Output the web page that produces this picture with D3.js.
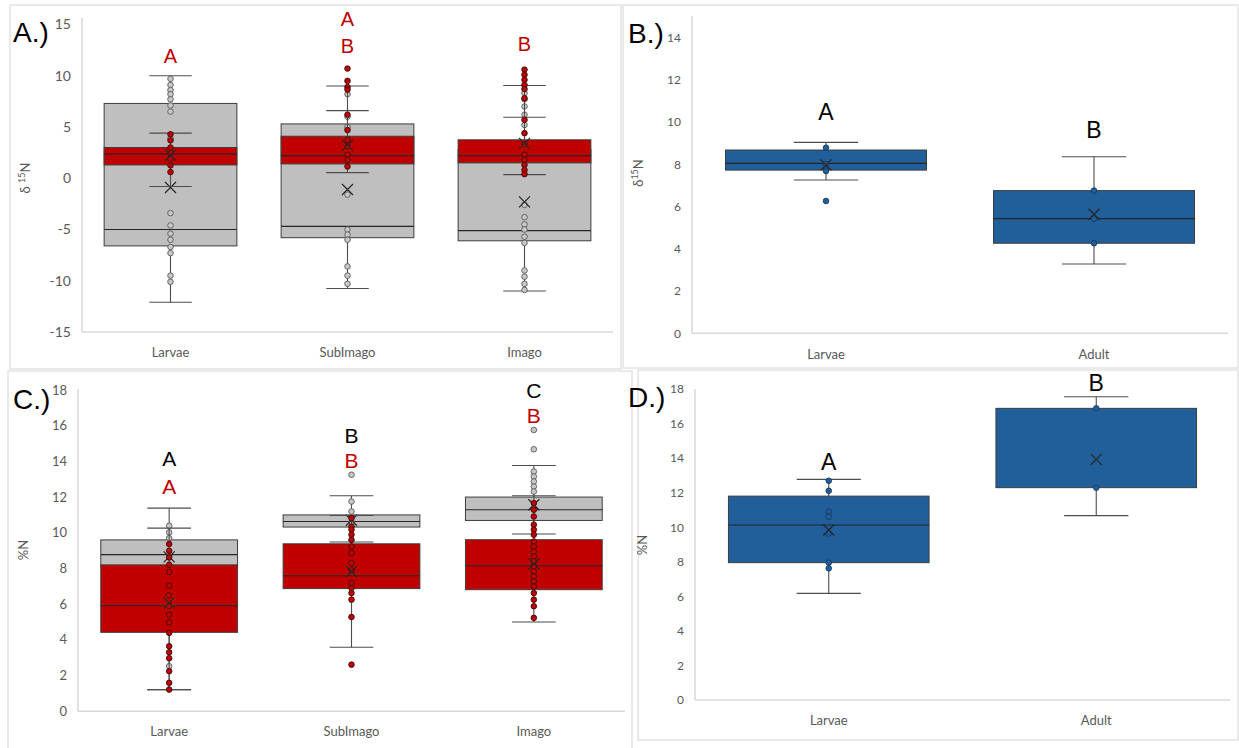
<!DOCTYPE html>
<html>
<head>
<meta charset="utf-8">
<script src="https://cdn.jsdelivr.net/npm/d3@7"></script>
<style>
  body { margin: 0; background: #fff; }
  text { font-family: Lato, "Open Sans", sans-serif; }
</style>
</head>
<body>
<svg id="drawing_region"></svg>
<script>
// each stats row: [lower whisker, Q1, median, Q3, upper whisker, mean]
const catsStage = ["Larvae", "SubImago", "Imago"];
const catsLife = ["Larvae", "Adult"];

const ticksA = [-15, -10, -5, 0, 5, 10, 15];
const ticksB = [0, 2, 4, 6, 8, 10, 12, 14];
const ticksCD = [0, 2, 4, 6, 8, 10, 12, 14, 16, 18];

// A.) d15N, all stages (gray) and subset (red)
const aGrayStats = [[-12.1, -6.6, -5.0, 7.3, 10.0, -0.9],
                    [-10.75, -5.8, -4.7, 5.3, 6.6, -1.1],
                    [-11.0, -6.1, -5.1, 2.8, 5.95, -2.3]];
const aGrayPts = [[9.7, 9.1, 8.6, 8.2, 7.7, 7.1, 6.5, 3.9, 2.0, -3.4, -4.6, -5.4, -6.0, -6.7, -7.3, -9.5, -10.1],
                  [8.2, 6.0, 5.0, 3.6, 2.6, -1.6, -5.0, -5.5, -6.0, -8.6, -9.5, -10.3],
                  [8.3, 7.7, 7.0, 6.2, 5.2, -2.6, -3.8, -4.5, -5.0, -5.7, -6.3, -9.0, -9.6, -10.3, -10.9]];
const aRedStats = [[-0.8, 1.3, 2.35, 3.0, 4.4, 2.25],
                   [0.55, 1.4, 2.2, 4.1, 9.0, 3.2],
                   [0.35, 1.5, 2.2, 3.75, 9.05, 3.4]];
const aRedPts = [[4.3, 3.7, 3.0, 2.45, 1.9, 1.25, 0.6],
                 [10.7, 9.5, 8.9, 8.65, 6.2, 4.7, 3.75, 3.1, 2.3, 1.8, 1.15],
                 [10.6, 10.1, 9.6, 9.1, 8.7, 7.8, 5.7, 4.4, 3.3, 2.3, 1.8, 1.3, 0.8, 0.4]];

// B.) d15N, larvae vs adult
const bStats = [[7.25, 7.72, 8.04, 8.67, 9.03, 7.97],
                [3.28, 4.26, 5.42, 6.75, 8.35, 5.63]];
const bPts = [[8.78, 8.0, 7.75, 7.68, 6.26],
              [6.75, 5.42, 4.26]];

// C.) %N, all stages (gray) and subset (red)
const cGrayStats = [[1.21, 8.15, 8.77, 9.6, 11.38, 8.65],
                    [9.48, 10.32, 10.63, 11.0, 12.07, 10.7],
                    [9.93, 10.69, 11.29, 12.0, 13.77, 11.57]];
const cGrayPts = [[10.39, 10.02, 9.7, 8.68, 2.52],
                  [13.25, 11.75, 11.19, 10.6],
                  [15.76, 14.68, 13.43, 13.15, 12.87, 12.59, 12.31]];
const cRedStats = [[1.21, 4.42, 5.92, 8.2, 10.26, 6.07],
                   [3.58, 6.87, 7.59, 9.38, 10.97, 7.83],
                   [5.0, 6.81, 8.15, 9.61, 12.07, 8.26]];
const cRedPts = [[9.37, 8.99, 8.62, 8.21, 7.8, 7.03, 6.49, 5.9, 5.41, 4.98, 4.39, 3.64, 3.30, 2.97, 2.24, 1.59, 1.21],
                 [10.82, 10.35, 10.17, 9.89, 9.6, 9.23, 8.86, 8.3, 7.9, 7.18, 6.9, 6.62, 6.25, 5.28, 2.61],
                 [11.66, 11.29, 10.91, 10.45, 10.17, 9.89, 9.51, 9.23, 8.95, 8.67, 8.39, 8.11, 7.83, 7.55, 7.27, 6.99, 6.62, 6.25, 5.88, 5.23]];

// D.) %N, larvae vs adult (no median line shown for adults)
const dStats = [[6.17, 7.95, 10.13, 11.8, 12.77, 9.84],
                [10.67, 12.29, null, 16.88, 17.55, 13.93]];
const dPts = [[12.69, 12.11, 10.9, 10.61, 9.64, 7.95, 7.62],
              [16.88, 12.29]];

// significance letters
const aLetters = [["Larvae", "A"], ["SubImago", "A"], ["SubImago", "B"], ["Imago", "B"]];
const bLetters = [["Larvae", "A"], ["Adult", "B"]];
const cLetters = [["Larvae", "A"], ["Larvae", "A"], ["SubImago", "B"], ["SubImago", "B"], ["Imago", "C"], ["Imago", "B"]];
const dLetters = [["Larvae", "A"], ["Adult", "B"]];

const RED = "#C00000", GRAY = "#BFBFBF", BLUE = "#215F9A", INK = "#595959";

const grayStyle = { fill: GRAY, ptFill: "#c8c8c8", ptStroke: "#595959" };
const redStyle = { fill: RED, ptFill: RED, ptStroke: "#3a1010" };
const blueStyle = { fill: BLUE, ptFill: BLUE, ptStroke: "#17395c" };

const panels = [
    { label: "A.)", labelAt: [13, 42], frame: [10, 5, 611, 364],
      xr: [82, 613], yr: [332, 24.5], domain: [-15, 15], axisTop: 18, ticks: ticksA, tickFont: 14,
      cats: catsStage, title: ["δ ", "15", "N"], titleAt: [30, 178],
      series: [{ stats: aGrayStats, pts: aGrayPts, st: grayStyle }, { stats: aRedStats, pts: aRedPts, st: redStyle }],
      letters: aLetters, letterY: [11.9, 15.6, 12.9, 13.1], letterCol: [RED, RED, RED, RED], letterSize: 20 },
    { label: "B.)", labelAt: [628, 43], frame: [623, 5, 615, 363],
      xr: [692, 1228], yr: [333.3, 16.2], domain: [0, 15], axisTop: 16, ticks: ticksB, tickFont: 12,
      cats: catsLife, title: ["δ", "15", "N"], titleAt: [643, 173],
      series: [{ stats: bStats, pts: bPts, st: blueStyle }],
      letters: bLetters, letterY: [10.48, 9.62], letterCol: ["#000", "#000"], letterSize: 23 },
    { label: "C.)", labelAt: [13, 409], frame: [8, 371, 624, 390],
      xr: [78, 625], yr: [711.2, 390], domain: [0, 18], axisTop: 389, ticks: ticksCD, tickFont: 13,
      cats: catsStage, title: ["%N"], titleAt: [28, 550],
      series: [{ stats: cGrayStats, pts: cGrayPts, st: grayStyle }, { stats: cRedStats, pts: cRedPts, st: redStyle }],
      letters: cLetters, letterY: [14.18, 12.59, 15.48, 14.05, 17.96, 16.6],
      letterCol: ["#000", RED, "#000", RED, "#000", RED], letterSize: 21 },
    { label: "D.)", labelAt: [628, 407], frame: [638, 370, 600, 370],
      xr: [695, 1230], yr: [700, 389], domain: [0, 18], axisTop: 389, ticks: ticksCD, tickFont: 12,
      cats: catsLife, title: ["%N"], titleAt: [647, 545],
      series: [{ stats: dStats, pts: dPts, st: blueStyle }],
      letters: dLetters, letterY: [13.79, 18.39], letterCol: ["#000", "#000"], letterSize: 23 }
];

const svg = d3.select("#drawing_region")
    .attr("width", 1239)
    .attr("height", 748);

svg.append("rect").attr("width", 1239).attr("height", 748).attr("fill", "#fff");

panels.forEach(p => drawPanel(p));

function drawPanel(p) {
    const g = svg.append("g");
    const x = d3.scaleBand().domain(p.cats).range(p.xr);
    const y = d3.scaleLinear().domain(p.domain).range(p.yr);
    const bw = x.bandwidth();
    const boxW = bw * 0.75;
    const capW = boxW * 0.32;
    const cx = c => x(c) + bw / 2;
    const base = y(p.domain[0]);

    // panel frame
    g.append("rect")
        .attr("x", p.frame[0]).attr("y", p.frame[1])
        .attr("width", p.frame[2]).attr("height", p.frame[3])
        .attr("fill", "none").attr("stroke", "#e3e3e3").attr("stroke-width", 1.5);

    // axis lines
    g.append("line")
        .attr("x1", p.xr[0]).attr("x2", p.xr[0])
        .attr("y1", p.axisTop).attr("y2", base)
        .attr("stroke", "#d9d9d9").attr("stroke-width", 1.5);
    g.append("line")
        .attr("x1", p.xr[0]).attr("x2", p.xr[1])
        .attr("y1", base).attr("y2", base)
        .attr("stroke", "#d9d9d9").attr("stroke-width", 1.5);

    // plain hyphen for negatives, like the source
    const yAxis = g.append("g")
        .attr("transform", `translate(${p.xr[0]},0)`)
        .call(d3.axisLeft(y).tickValues(p.ticks).tickSize(0).tickPadding(11).tickFormat(d => String(d)));
    yAxis.select(".domain").remove();
    yAxis.selectAll("text").attr("fill", INK).style("font-size", p.tickFont + "px")
        .style("font-family", "Lato, sans-serif");

    const xAxis = g.append("g")
        .attr("transform", `translate(0,${base})`)
        .call(d3.axisBottom(x).tickSize(0).tickPadding(16));
    xAxis.select(".domain").remove();
    xAxis.selectAll("text").attr("fill", INK).style("font-size", "13px")
        .style("font-family", "Lato, sans-serif");

    // y title
    const t = g.append("text")
        .attr("transform", `translate(${p.titleAt[0]},${p.titleAt[1]}) rotate(-90)`)
        .attr("text-anchor", "middle")
        .attr("fill", INK)
        .style("font-size", "13px");
    if (p.title.length === 3) {
        t.append("tspan").text(p.title[0]);
        t.append("tspan").text(p.title[1]).attr("font-size", "9px").attr("dy", "-5");
        t.append("tspan").text(p.title[2]).attr("dy", "5");
    } else {
        t.text(p.title[0]);
    }

    // boxes, one series after the other
    p.series.forEach(s => {
        const rows = p.cats.map((c, i) => ({ c: c, v: s.stats[i], pts: s.pts[i] }));
        const sg = g.append("g");

        sg.selectAll(".wh")
            .data(rows.flatMap(r => [[r.c, r.v[3], r.v[4]], [r.c, r.v[1], r.v[0]]]))
            .join("line")
            .attr("x1", d => cx(d[0])).attr("x2", d => cx(d[0]))
            .attr("y1", d => y(d[1])).attr("y2", d => y(d[2]))
            .attr("stroke", "#4d4d4d").attr("stroke-width", 1.1);

        sg.selectAll(".cap")
            .data(rows.flatMap(r => [[r.c, r.v[0]], [r.c, r.v[4]]]))
            .join("line")
            .attr("x1", d => cx(d[0]) - capW / 2).attr("x2", d => cx(d[0]) + capW / 2)
            .attr("y1", d => y(d[1])).attr("y2", d => y(d[1]))
            .attr("stroke", "#4d4d4d").attr("stroke-width", 1.1);

        sg.selectAll(".box")
            .data(rows)
            .join("rect")
            .attr("x", d => cx(d.c) - boxW / 2)
            .attr("y", d => y(d.v[3]))
            .attr("width", boxW)
            .attr("height", d => y(d.v[1]) - y(d.v[3]))
            .attr("fill", s.st.fill)
            .attr("stroke", "#3d3d3d").attr("stroke-width", 1);

        sg.selectAll(".med")
            .data(rows.filter(r => r.v[2] !== null))
            .join("line")
            .attr("x1", d => cx(d.c) - boxW / 2).attr("x2", d => cx(d.c) + boxW / 2)
            .attr("y1", d => y(d.v[2])).attr("y2", d => y(d.v[2]))
            .attr("stroke", "#262626").attr("stroke-width", 1.2);

        sg.selectAll(".pt")
            .data(rows.flatMap(r => r.pts.map(v => [r.c, v])))
            .join("circle")
            .attr("cx", d => cx(d[0]))
            .attr("cy", d => y(d[1]))
            .attr("r", 2.8)
            .attr("fill", s.st.ptFill)
            .attr("stroke", s.st.ptStroke).attr("stroke-width", 0.9);

        const m = 5.5;
        sg.selectAll(".mean")
            .data(rows)
            .join("path")
            .attr("d", d => {
                const px = cx(d.c), py = y(d.v[5]);
                return `M${px - m},${py - m}L${px + m},${py + m}M${px - m},${py + m}L${px + m},${py - m}`;
            })
            .attr("stroke", "#262626").attr("stroke-width", 1.2).attr("fill", "none");
    });

    // significance letters
    g.selectAll(".letter")
        .data(p.letters.map((d, i) => ({ c: d[0], t: d[1], v: p.letterY[i], col: p.letterCol[i] })))
        .join("text")
        .attr("x", d => cx(d.c))
        .attr("y", d => y(d.v))
        .attr("dy", "0.36em")
        .attr("text-anchor", "middle")
        .attr("fill", d => d.col)
        .style("font-family", "'Liberation Sans', Arial, sans-serif")
        .style("font-size", p.letterSize + "px")
        .text(d => d.t);

    // panel label
    g.append("text")
        .attr("x", p.labelAt[0]).attr("y", p.labelAt[1])
        .attr("fill", "#000")
        .style("font-family", "'Liberation Sans', Arial, sans-serif")
        .style("font-size", "28px")
        .text(p.label);
}
</script>
</body>
</html>
